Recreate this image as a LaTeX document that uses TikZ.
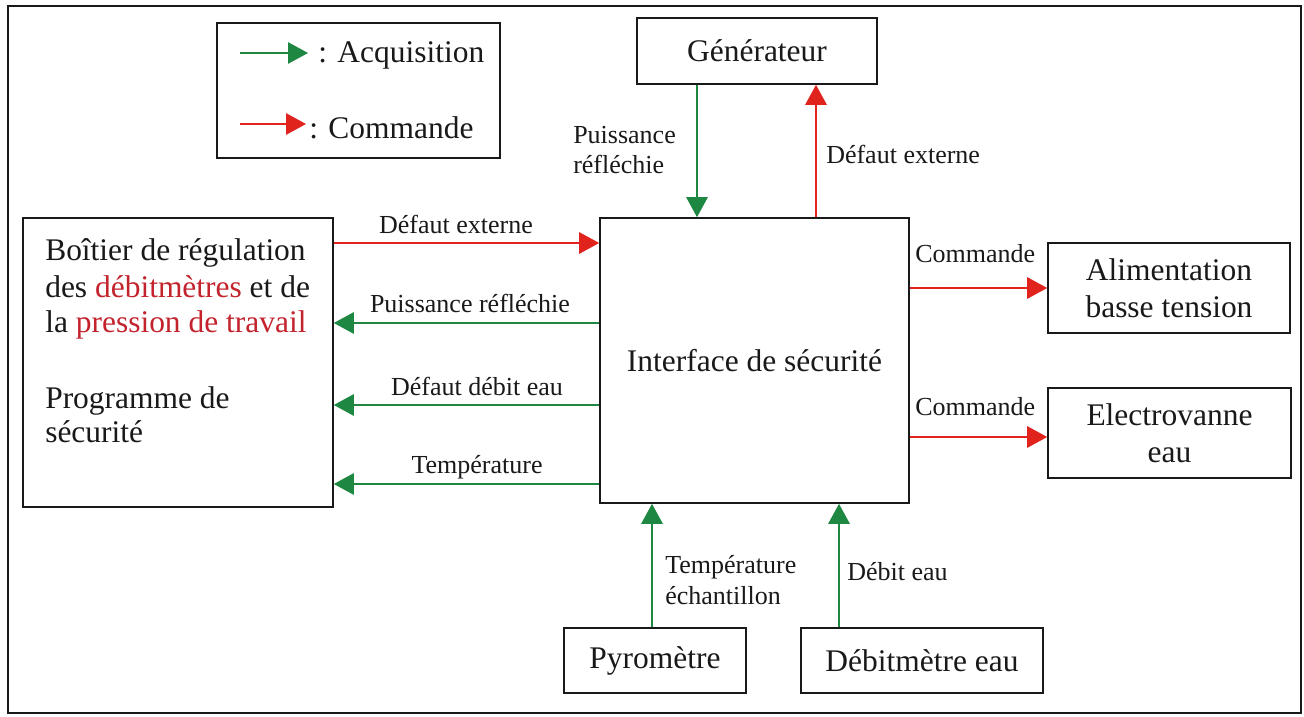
\documentclass[tikz,border=0pt]{standalone}
\usepackage{fontspec}
\setmainfont{Liberation Serif}
\usetikzlibrary{arrows.meta}
\definecolor{acqgreen}{RGB}{30,135,65}
\definecolor{cmdred}{RGB}{225,35,30}
\definecolor{txtred}{RGB}{195,35,45}
\definecolor{ink}{RGB}{25,25,25}
\begin{document}
\begin{tikzpicture}[x=0.75pt,y=-0.75pt,
  every node/.style={text=ink},
  box/.style={draw=ink, line width=1.2pt, inner sep=0pt, align=center,
    font=\fontsize{23.6pt}{27.7pt}\selectfont},
  big/.style={inner sep=0pt, font=\fontsize{23.6pt}{26.6pt}\selectfont},
  lab/.style={inner sep=0pt, font=\fontsize{19.5pt}{21pt}\selectfont},
  acq/.style={draw=acqgreen, line width=1.3pt,
    -{Triangle[length=15pt,width=16pt,fill=acqgreen]}},
  cmd/.style={draw=cmdred, line width=1.3pt,
    -{Triangle[length=15pt,width=16pt,fill=cmdred]}}
]
\useasboundingbox (0,0) rectangle (1304,717);
\draw[draw=ink, line width=1.2pt] (8,6) rectangle (1301,713);

% legend
\node[box, minimum width=212.25pt, minimum height=101.25pt] (legend) at (358.5,90.5) {};
\coordinate (lg1a) at (240,53);
\coordinate (lg1b) at (308,53);
\coordinate (lg2a) at (240,124);
\coordinate (lg2b) at (306,124);
\draw[acq] (lg1a) -- (lg1b);
\draw[cmd] (lg2a) -- (lg2b);
\node[big, anchor=base west] (lgt1) at (318,63) {: Acquisition};
\node[big, anchor=base west] (lgt2) at (309,138) {: Commande};

% boxes
\node[box, minimum width=180pt, minimum height=49.5pt] (gen) at (757,51) {Générateur};
\node[box, minimum width=231.75pt, minimum height=213.75pt] (interface) at (754.5,360.5) {Interface de sécurité};
\node[box, minimum width=232.5pt, minimum height=216.75pt] (regul) at (178,362.5) {};
\node[box, minimum width=181.5pt, minimum height=67.5pt] (alim) at (1169,288) {Alimentation\\basse tension};
\node[box, minimum width=182.25pt, minimum height=67.5pt] (elec) at (1169.5,433) {Electrovanne\\eau};
\node[box, minimum width=136.5pt, minimum height=48.75pt] (pyro) at (655,660.5) {Pyromètre};
\node[box, minimum width=181.5pt, minimum height=48.75pt] (debm) at (922,660.5) {Débitmètre eau};

% text of the left box
\node[big, anchor=base west] (rl1) at (45,260) {Boîtier de régulation};
\node[big, anchor=base west] (rl2) at (45,297) {des {\color{txtred}débitmètres} et de};
\node[big, anchor=base west] (rl3) at (45,332) {la {\color{txtred}pression de travail}};
\node[big, anchor=base west] (rl4) at (45,408) {Programme de};
\node[big, anchor=base west] (rl5) at (45,442) {sécurité};

% top connectors
\draw[acq] (gen.south -| 697,0) -- (interface.north -| 697,0);
\draw[cmd] (interface.north -| 816,0) -- (gen.south -| 816,0);
\node[lab, anchor=base west] (lpr1) at (573,143) {Puissance};
\node[lab, anchor=base west] (lpr2) at (573,173) {réfléchie};
\node[lab, anchor=base west] (lde1) at (826,163) {Défaut externe};

% left connectors
\draw[cmd] (regul.east |- 0,243) -- (interface.west |- 0,243);
\draw[acq] (interface.west |- 0,323) -- (regul.east |- 0,323);
\draw[acq] (interface.west |- 0,405) -- (regul.east |- 0,405);
\draw[acq] (interface.west |- 0,484) -- (regul.east |- 0,484);
\node[lab, anchor=base] (lde2) at (456,233) {Défaut externe};
\node[lab, anchor=base] (lpr3) at (470,312) {Puissance réfléchie};
\node[lab, anchor=base] (ldd) at (477,395) {Défaut débit eau};
\node[lab, anchor=base] (ltp) at (477,473) {Température};

% right connectors
\draw[cmd] (interface.east |- alim.west) -- (alim.west);
\draw[cmd] (interface.east |- 0,437) -- (elec.west |- 0,437);
\node[lab, anchor=base west] (lc1) at (915,262) {Commande};
\node[lab, anchor=base west] (lc2) at (915,415) {Commande};

% bottom connectors
\draw[acq] (pyro.north -| 652,0) -- (interface.south -| 652,0);
\draw[acq] (debm.north -| 839,0) -- (interface.south -| 839,0);
\node[lab, anchor=base west] (lte1) at (665,573) {Température};
\node[lab, anchor=base west] (lte2) at (665,604) {échantillon};
\node[lab, anchor=base west] (ldb) at (847,580) {Débit eau};
\end{tikzpicture}
\end{document}
